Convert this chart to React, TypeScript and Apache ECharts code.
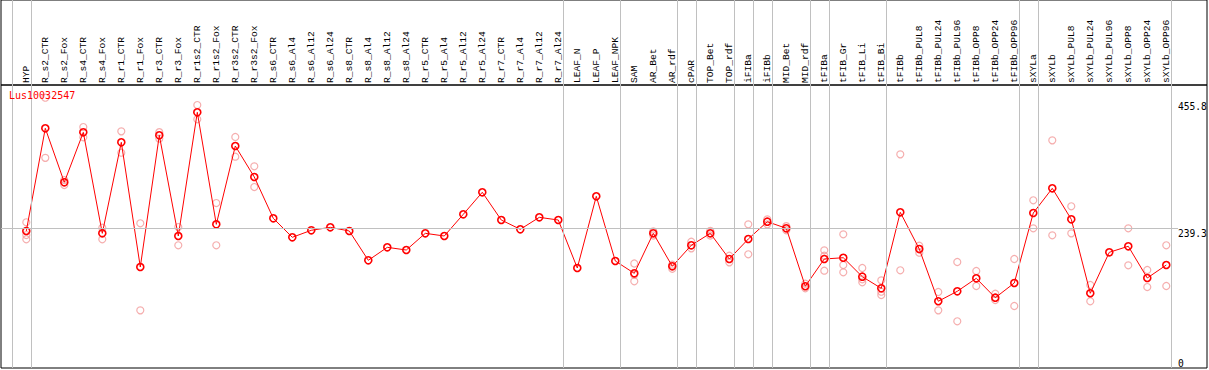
import React, { useEffect, useRef } from "react";
import * as echarts from "echarts";

const chartTitle = "Lus10032547";

const categories = [
  "HYP", "R_s2_CTR", "R_s2_Fox", "R_s4_CTR", "R_s4_Fox", "R_r1_CTR", "R_r1_Fox", "R_r3_CTR", "R_r3_Fox",
  "R_r1s2_CTR", "R_r1s2_Fox", "R_r3s2_CTR", "R_r3s2_Fox", "R_s6_CTR", "R_s6_Al4", "R_s6_Al12", "R_s6_Al24",
  "R_s8_CTR", "R_s8_Al4", "R_s8_Al12", "R_s8_Al24", "R_r5_CTR", "R_r5_Al4", "R_r5_Al12", "R_r5_Al24",
  "R_r7_CTR", "R_r7_Al4", "R_r7_Al12", "R_r7_Al24", "LEAF_N", "LEAF_P", "LEAF_NPK", "SAM", "AR_Bet", "AR_rdf",
  "cPAR", "TOP_Bet", "TOP_rdf", "iFIBa", "iFIBb", "MID_Bet", "MID_rdf", "tFIBa", "tFIB_Gr", "tFIB_Li", "tFIB_Bi",
  "tFIBb", "tFIBb_PUL8", "tFIBb_PUL24", "tFIBb_PUL96", "tFIBb_OPP8", "tFIBb_OPP24", "tFIBb_OPP96",
  "sXYLa", "sXYLb", "sXYLb_PUL8", "sXYLb_PUL24", "sXYLb_PUL96", "sXYLb_OPP8", "sXYLb_OPP24", "sXYLb_OPP96",
];

const means = [
  234.7, 410.6, 318.1, 403.7, 230.7, 386.6, 173.0, 398.6, 226.1, 438.0, 246.1, 380.3, 327.2,
  256.4, 223.9, 235.9, 241.0, 234.7, 184.5, 206.7, 202.1, 230.7, 226.1, 263.3, 301.0,
  253.5, 237.6, 258.1, 253.5, 171.3, 294.1, 183.3, 162.2, 230.7, 174.2, 210.2, 230.7, 186.7,
  221.0, 250.6, 239.3, 140.0, 186.7, 188.9, 156.4, 136.5, 266.7, 203.8, 114.3, 131.4, 153.6,
  120.4, 145.6, 265.5, 307.8, 254.7, 128.0, 198.2, 208.5, 154.2, 176.4,
];

const replicates: number[][] = [
  [249.6, 227.8, 220.5], [463.0, 360.0], [322.0, 313.5], [412.8, 395.2], [240.3, 220.5],
  [405.4, 368.8], [247.9, 98.8], [404.0, 393.0], [241.5, 210.2], [450.5, 426.0], [282.6, 210.2],
  [395.7, 362.0], [345.5, 310.0], [], [], [], [], [], [], [], [], [], [], [], [], [], [], [], [],
  [], [], [], [179.0, 160.0, 148.5], [234.0, 227.0], [177.0, 170.0], [216.3, 205.0], [235.0, 227.0],
  [192.4, 181.0], [246.1, 194.8], [254.7, 246.1], [243.0, 236.0], [144.4, 136.5],
  [201.6, 192.4, 166.7], [229.0, 176.4, 163.9], [171.3, 152.0, 146.8], [150.2, 130.7, 125.0],
  [366.0, 167.4], [209.5, 197.5], [130.2, 98.8], [181.6, 80.0], [166.2, 140.5], [127.3, 116.5],
  [186.7, 106.2], [287.3, 239.3], [390.0, 227.3], [277.0, 230.7], [142.2, 114.3], [],
  [239.3, 175.9], [167.9, 138.7], [210.2, 140.5],
];

// last category index of each group (group separators)
const groupEnds = [-1, 0, 28, 31, 34, 35, 37, 38, 39, 41, 42, 45, 52, 53, 60];
const yTickValues = [0, 239.3, 455.8];
const referenceValue = 239.3;

const MONO = "'DejaVu Sans Mono', 'Liberation Mono', monospace";
const LABEL_FONT = "'Liberation Mono', 'DejaVu Sans Mono', monospace";
const X_MIN = -1.3316;
const X_MAX = 62.143;
const Y_MAX = 484.8;
const SEP_OFFSET = 0.24;
const GRID_COLOR = "#c0c0c0";

export default function App() {
  const ref = useRef<HTMLDivElement>(null);

  useEffect(() => {
    if (!ref.current) return;
    const chart = echarts.init(ref.current, undefined, { renderer: "svg" });

    const repData: number[][] = [];
    replicates.forEach((reps, i) => reps.forEach((v) => repData.push([i, v])));

    const sepLines = groupEnds.map((g) => ({ xAxis: g + SEP_OFFSET }));
    const markLineBase = {
      silent: true,
      symbol: ["none", "none"],
      label: { show: false },
      emphasis: { disabled: true },
      lineStyle: { color: GRID_COLOR, width: 1, type: "solid" },
    };

    const option: any = {
      animation: false,
      title: {
        text: chartTitle,
        left: 9,
        top: 90,
        padding: 0,
        textStyle: { color: "#ff0000", fontFamily: MONO, fontSize: 10, fontWeight: "normal" },
      },
      grid: [
        { left: 1, top: 85, width: 1206, height: 283, show: true, borderColor: "#000", borderWidth: 1, backgroundColor: "transparent", outerBoundsMode: "none", containLabel: false },
        { left: 1, top: 0, width: 1206, height: 85, show: true, borderColor: "#000", borderWidth: 1, backgroundColor: "transparent", outerBoundsMode: "none", containLabel: false },
      ],
      xAxis: [
        {
          type: "value",
          gridIndex: 0,
          position: "top",
          min: X_MIN,
          max: X_MAX,
          axisLine: { show: false },
          axisTick: { show: false },
          splitLine: { show: false },
          axisLabel: {
            customValues: categories.map((_, i) => i),
            formatter: (v: number) => categories[Math.round(v)] ?? "",
            rotate: 90,
            margin: 2,
            hideOverlap: false,
            showMinLabel: true,
            showMaxLabel: true,
            fontFamily: LABEL_FONT,
            fontSize: 9.6,
            color: "#000",
          },
        },
        { type: "value", gridIndex: 1, min: X_MIN, max: X_MAX, show: false },
      ],
      yAxis: [
        {
          type: "value",
          gridIndex: 0,
          position: "right",
          offset: -29,
          min: 0,
          max: Y_MAX,
          axisLine: { show: false },
          axisTick: { show: false },
          splitLine: { show: false },
          axisLabel: {
            customValues: yTickValues,
            formatter: (v: number) => String(v),
            margin: 0,
            align: "left",
            verticalAlign: "top",
            verticalAlignMinLabel: "bottom",
            fontFamily: MONO,
            fontSize: 9.6,
            color: "#000",
          },
        },
        { type: "value", gridIndex: 1, min: 0, max: 1, show: false },
      ],
      series: [
        {
          type: "line",
          xAxisIndex: 0,
          yAxisIndex: 0,
          data: [],
          z: 1,
          silent: true,
          markLine: {
            ...markLineBase,
            data: [
              ...sepLines,
              [{ coord: [X_MIN, referenceValue] }, { coord: [60.62, referenceValue] }],
            ],
          },
        },
        {
          type: "line",
          xAxisIndex: 1,
          yAxisIndex: 1,
          data: [],
          z: 1,
          silent: true,
          markLine: { ...markLineBase, data: sepLines },
        },
        {
          type: "scatter",
          xAxisIndex: 0,
          yAxisIndex: 0,
          data: repData,
          symbol: "circle",
          symbolSize: 7,
          z: 2,
          silent: true,
          itemStyle: { color: "rgba(0,0,0,0)", borderColor: "#f29a9a", borderWidth: 1.2 },
        },
        {
          type: "line",
          xAxisIndex: 0,
          yAxisIndex: 0,
          data: means.map((v, i) => [i, v]),
          symbol: "circle",
          symbolSize: 7,
          showAllSymbol: true,
          z: 3,
          silent: true,
          lineStyle: { color: "#ff0000", width: 1 },
          itemStyle: { color: "rgba(0,0,0,0)", borderColor: "#ff0000", borderWidth: 1.6 },
        },
      ],
    };

    chart.setOption(option);
    return () => chart.dispose();
  }, []);

  return (
    <div
      ref={ref}
      style={{ position: "fixed", left: 0, top: 0, width: 1209, height: 370, background: "#fff" }}
    />
  );
}
